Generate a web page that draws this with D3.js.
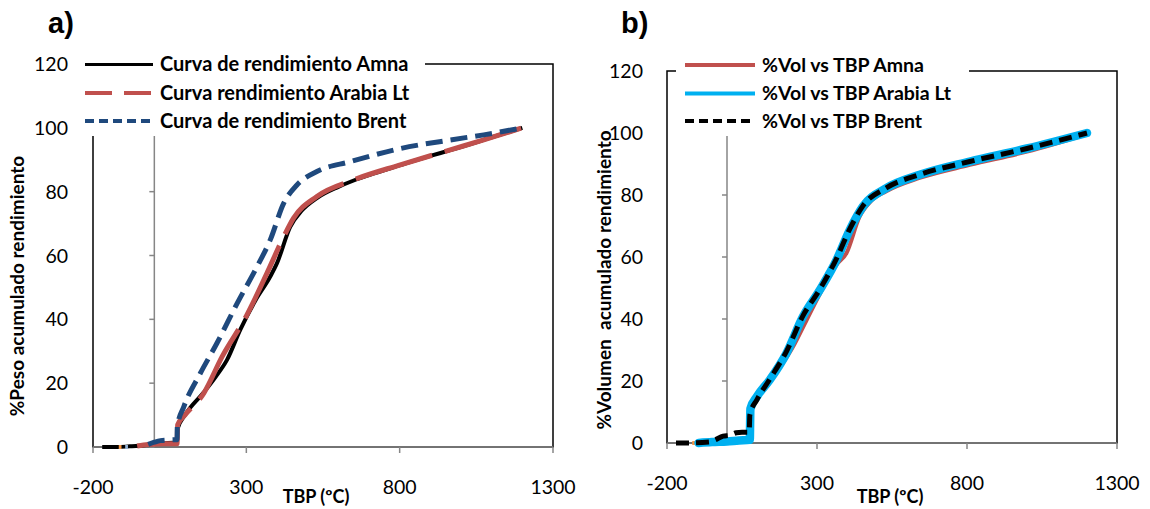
<!DOCTYPE html>
<html><head><meta charset="utf-8">
<script src="https://cdn.jsdelivr.net/npm/d3@7"></script>
<style>body{margin:0;background:#fff}svg{display:block}</style>
</head><body><svg id="c" width="1150" height="509"></svg>
<script>
// ---------- DATA ----------
const xTicks = [-200, 300, 800, 1300];
const yTicks = [0, 20, 40, 60, 80, 100, 120];

// Panel a) %Peso
const amnaWtT = [-170,-120,-80,-60,-20,0,30,74,75,100,160,200,237,280,330,378,400,443,480,530,600,650,700,802,900,965,1074,1200];
const amnaWtV = [0,0,0.2,0.3,0.7,1,1.2,1.5,5.5,10,17,22,27.3,36.7,46,53.4,57.6,69,74,78,81.5,83.5,85.2,88.3,91.2,93,96.2,100];
const arabiaWtT = [-56,-20,0,30,74,76,100,161,221,302,367,422,454,530,650,802,965,1074,1200];
const arabiaWtV = [0.3,0.8,0.9,1,1,6.9,10,16.8,28.3,41.4,54.4,65.9,71.7,78.5,83.7,88.4,93.1,96.2,100];
const brentWtT = [-20,0,20,50,74,75,96,150,204,270,335,378,422,465,530,639,802,965,1074,1200];
const brentWtV = [0.8,1.5,2,2.2,2.3,6.4,12.6,23.1,32.5,45,56.5,64.9,76.4,82.1,86.3,89.4,93.5,96.2,97.8,100];

// Panel b) %Volumen
const amnaVolT = [-50,-10,0,74,76,142,220,265,309,365,398,442,480,531,642,809,1000,1200];
const amnaVolV = [0.3,0.8,1,1,9,19.5,31,39.6,48,57.5,61.2,73,78,81.2,85.5,89.7,94,99.6];
const arabiaVolT = [-95,-50,0,40,76,78,100,142,198,253,309,365,409,453,531,642,809,1000,1200];
const arabiaVolV = [0,0.3,0.5,0.8,1,11,15,20.3,28.9,40.7,49.3,59,68.7,76.3,82.2,86.5,90.8,95,100];
const brentVolT = [-170,-130,-60,-40,-13,10,31,50,74,76,100,142,198,253,309,365,409,453,531,642,809,1000,1200];
const brentVolV = [0,0,0.3,1,2.2,2.5,3.3,3.5,3.5,9,14,20.5,29.5,41,49.5,59.5,69,76.5,82.3,86.6,90.8,95,100];

// small extra series near origin
const orangeT = [-116,-107];
const blueLightT = [-95,-86];
const extraV = [0,0];

const legendA = ["Curva de rendimiento Amna","Curva rendimiento Arabia Lt","Curva de rendimiento Brent"];
const legendB = ["%Vol vs TBP Amna","%Vol vs TBP Arabia Lt","%Vol vs TBP Brent"];

// ---------- DRAW ----------
const svg = d3.select("#c");
const FONT = "Lato, 'Open Sans', sans-serif";

function zip(t, v){ return t.map((d,i)=>[d, v[i]]); }

function panel(cfg){
  const x = d3.scaleLinear().domain([-200,1300]).range([cfg.x0, cfg.x1]);
  const y = d3.scaleLinear().domain([0,120]).range([cfg.y0, cfg.y1]);
  const g = svg.append("g");
  // frame
  g.append("rect").attr("x", x(-200)).attr("y", y(120)).attr("width", x(1300)-x(-200)).attr("height", y(0)-y(120))
    .attr("fill","none").attr("stroke","#000").attr("stroke-width",1.5);
  // vertical gray axis at x=0
  g.append("line").attr("x1",x(0)).attr("x2",x(0)).attr("y1",y(0)).attr("y2",y(120)).attr("stroke","#868686").attr("stroke-width",1.5);
  yTicks.forEach(t=>{
    g.append("line").attr("x1",x(0)-5).attr("x2",x(0)).attr("y1",y(t)).attr("y2",y(t)).attr("stroke","#868686").attr("stroke-width",1.5);
  });
  // bottom gray axis
  g.append("line").attr("x1",x(-200)).attr("x2",x(1300)).attr("y1",y(0)).attr("y2",y(0)).attr("stroke","#868686").attr("stroke-width",1.5);
  xTicks.forEach(t=>{
    g.append("line").attr("x1",x(t)).attr("x2",x(t)).attr("y1",y(0)).attr("y2",y(0)+6).attr("stroke","#868686").attr("stroke-width",1.5);
    g.append("text").attr("x",x(t)).attr("y",y(0)+47).attr("text-anchor","middle")
      .attr("font-family",FONT).attr("font-size",19.5).attr("fill","#000").text(t);
  });
  yTicks.forEach(t=>{
    g.append("text").attr("x",cfg.labelRight).attr("y",y(t)+7).attr("text-anchor","end")
      .attr("font-family",FONT).attr("font-size",19.5).attr("fill","#000").text(t);
  });
  // series
  const line = d3.line().x(d=>x(d[0])).y(d=>y(d[1])).curve(d3.curveMonotoneX);
  const plot = g.append("g");
  cfg.series.forEach(s=>{
    plot.append("path").datum(zip(s.t,s.v)).attr("d",line).attr("fill","none")
      .attr("stroke",s.color).attr("stroke-width",s.w).attr("stroke-dasharray",s.dash||null)
      .attr("stroke-linejoin","round").attr("stroke-linecap",s.cap||"butt");
  });
  // legend box
  g.append("rect").attr("x",cfg.leg.x).attr("y",cfg.leg.y).attr("width",cfg.leg.w).attr("height",cfg.leg.h).attr("fill","#fff");
  cfg.legend.forEach((lab,i)=>{
    const s = cfg.legItems[i];
    const yy = cfg.leg.rows[i];
    g.append("line").attr("x1",cfg.leg.lx0).attr("x2",cfg.leg.lx1).attr("y1",yy).attr("y2",yy)
      .attr("stroke",s.color).attr("stroke-width",s.w).attr("stroke-dasharray",s.dash||null);
    g.append("text").attr("x",cfg.leg.tx).attr("y",yy+6.5).attr("font-family",FONT).attr("font-weight","bold")
      .attr("font-size",cfg.leg.fs).attr("fill","#000").text(lab);
  });
  // titles
  g.append("text").attr("x",cfg.xt.x).attr("y",cfg.xt.y).attr("text-anchor","middle").attr("font-family",FONT)
    .attr("font-weight","bold").attr("font-size",18).text("TBP (ºC)");
  g.append("text").attr("transform",`translate(${cfg.yt.x},${cfg.yt.y}) rotate(-90)`).attr("text-anchor","middle")
    .attr("font-family",FONT).attr("font-weight","bold").attr("font-size",19).attr("xml:space","preserve").text(cfg.yt.text);
  g.append("text").attr("x",cfg.tag.x).attr("y",cfg.tag.y).attr("font-family","'Liberation Sans', Arial, sans-serif")
    .attr("font-weight","bold").attr("font-size",29).text(cfg.tag.text);
}

panel({
  x0:93, x1:553, y0:447, y1:64, labelRight:68,
  series:[
    {t:amnaWtT, v:amnaWtV, color:"#000", w:4},
    {t:orangeT, v:extraV, color:"#F79646", w:4},
    {t:blueLightT, v:extraV, color:"#95B3D7", w:4},
    {t:arabiaWtT, v:arabiaWtV, color:"#C0504D", w:5, dash:"80,13"},
    {t:brentWtT, v:brentWtV, color:"#1F497D", w:5, dash:"17,8"}
  ],
  legend:legendA,
  legItems:[{color:"#000",w:3},{color:"#C0504D",w:4,dash:"27,12"},{color:"#1F497D",w:4,dash:"9,5"}],
  leg:{x:76,y:46,w:349,h:90,rows:[64.5,93,121],lx0:85,lx1:153,tx:160,fs:20},
  xt:{x:316,y:503}, yt:{x:24,y:286,text:"%Peso acumulado rendimiento"},
  tag:{x:48,y:33,text:"a)"}
});

panel({
  x0:667, x1:1117, y0:443, y1:71, labelRight:643,
  series:[
    {t:amnaVolT, v:amnaVolV, color:"#C0504D", w:4},
    {t:orangeT, v:extraV, color:"#F79646", w:4},
    {t:blueLightT, v:extraV, color:"#95B3D7", w:4},
    {t:arabiaVolT, v:arabiaVolV, color:"#00B0F0", w:8.5, cap:"round"},
    {t:brentVolT, v:brentVolV, color:"#000", w:5, dash:"13,7"}
  ],
  legend:legendB,
  legItems:[{color:"#C0504D",w:4},{color:"#00B0F0",w:4},{color:"#000",w:4,dash:"9,5"}],
  leg:{x:676,y:48,w:293,h:88,rows:[65,93.5,121],lx0:685,lx1:755,tx:762,fs:19.5},
  xt:{x:890,y:503}, yt:{x:611,y:280,text:"%Volumen  acumulado rendimiento"},
  tag:{x:621,y:33,text:"b)"}
});
</script></body></html>
